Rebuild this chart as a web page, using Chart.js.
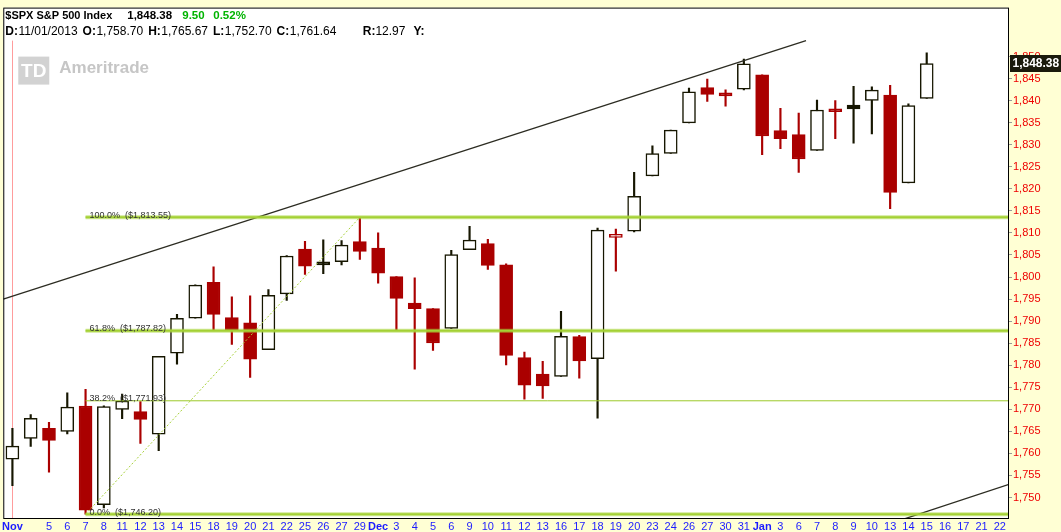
<!DOCTYPE html>
<html>
<head>
<meta charset="utf-8">
<script src="https://cdn.jsdelivr.net/npm/chart.js@4.4.1/dist/chart.umd.min.js"></script>
<style>
  html, body { margin: 0; padding: 0; background: #ffffd4; }
  canvas { display: block; }
</style>
</head>
<body>
<canvas id="spxChart" width="1061" height="532"></canvas>
<script>
// x axis: one slot per trading day, last four are empty future days
var dayLabels = ['Nov', '', '5', '6', '7', '8', '11', '12', '13', '14', '15', '18', '19', '20', '21', '22', '25', '26', '27', '29',
    'Dec', '3', '4', '5', '6', '9', '10', '11', '12', '13', '16', '17', '18', '19', '20', '23', '24', '26', '27', '30', '31',
    'Jan', '3', '6', '7', '8', '9', '10', '13', '14', '15', '16', '17', '21', '22'];
var monthLabels = ['Nov', 'Dec', 'Jan'];

var opens = [1758.70, 1763.40, 1765.67, 1765.00, 1770.74, 1748.37, 1769.96, 1769.51, 1764.37, 1782.75, 1790.66,
    1798.82, 1790.79, 1789.59, 1783.52, 1796.19, 1806.33, 1802.87, 1803.48, 1808.01,
    1806.55, 1800.10, 1794.08, 1792.82, 1788.36, 1806.21, 1807.60, 1802.76, 1781.71, 1777.98,
    1777.48, 1786.47, 1781.46, 1809.00, 1810.39, 1822.92, 1828.02, 1834.96, 1842.97, 1841.47, 1842.61,
    1845.86, 1833.21, 1832.31, 1828.71, 1837.90, 1839.00, 1840.06, 1841.26, 1821.36, 1840.52];
var highs = [1765.67, 1768.78, 1767.03, 1773.74, 1774.54, 1770.78, 1773.44, 1771.78, 1782.00, 1791.53, 1798.22,
    1802.33, 1795.51, 1795.73, 1797.16, 1804.84, 1808.10, 1808.42, 1808.27, 1813.55,
    1810.02, 1800.10, 1799.80, 1792.82, 1806.04, 1811.52, 1808.52, 1802.97, 1782.99, 1780.90,
    1792.22, 1786.77, 1811.08, 1810.88, 1823.75, 1829.75, 1833.32, 1842.84, 1844.89, 1842.47, 1849.44,
    1845.86, 1838.24, 1837.16, 1840.10, 1840.02, 1843.23, 1843.15, 1843.45, 1839.26, 1850.84];
var lows = [1752.70, 1761.56, 1755.76, 1764.40, 1746.20, 1747.63, 1767.85, 1762.29, 1760.64, 1780.22, 1790.66,
    1788.00, 1784.72, 1777.23, 1783.52, 1794.70, 1800.58, 1800.77, 1802.77, 1803.98,
    1798.60, 1787.85, 1779.09, 1783.38, 1788.36, 1806.21, 1801.75, 1780.09, 1772.28, 1772.45,
    1777.48, 1777.05, 1767.99, 1801.35, 1810.25, 1822.92, 1828.02, 1834.96, 1839.81, 1838.77, 1842.41,
    1827.74, 1829.13, 1823.73, 1828.71, 1831.40, 1830.38, 1832.43, 1815.52, 1821.36, 1840.52];
var closes = [1761.64, 1767.93, 1762.97, 1770.49, 1747.15, 1770.61, 1771.89, 1767.69, 1782.00, 1790.62, 1798.18,
    1791.53, 1787.87, 1781.37, 1795.85, 1804.76, 1802.48, 1802.75, 1807.23, 1805.81,
    1800.90, 1795.15, 1792.81, 1785.03, 1805.09, 1808.37, 1802.62, 1782.22, 1775.50, 1775.32,
    1786.54, 1781.00, 1810.65, 1809.60, 1818.32, 1827.99, 1833.32, 1842.02, 1841.40, 1841.07, 1848.36,
    1831.98, 1831.37, 1826.77, 1837.88, 1837.49, 1838.13, 1842.37, 1819.20, 1838.88, 1848.38];

var yTickValues = [1750, 1755, 1760, 1765, 1770, 1775, 1780, 1785, 1790, 1795, 1800,
    1805, 1810, 1815, 1820, 1825, 1830, 1835, 1840, 1845, 1850];

// fibonacci retracement from the Nov 7 low to the Nov 29 high
var fibPercents = ['100.0%', '61.8%', '38.2%', '0.0%'];
var fibPrices = [1813.55, 1787.82, 1771.93, 1746.20];
var fibHeavy = [true, true, false, true];
var fibStart = 4;
var fibSwing = [{x: 4, y: 1746.20}, {x: 19, y: 1813.55}];

// trend channel, x in day slots
var upperTrend = [{x: -0.5, y: 1795.0}, {x: 43.4, y: 1853.6}];
var lowerTrend = [{x: 47.5, y: 1743.4}, {x: 54.5, y: 1753.0}];

var cursorIndex = 0;
var cursorDate = '11/01/2013';

var BLACK = '#161600';
var RED = '#aa0000';

function fmt(v) {
    return v.toLocaleString('en-US', {minimumFractionDigits: 2, maximumFractionDigits: 2});
}

var candleColor = [], bodyFill = [], bodies = [], wicks = [];
for (var i = 0; i < closes.length; i++) {
    var col = (i > 0 && closes[i] < closes[i - 1]) ? RED : BLACK;
    candleColor.push(col);
    bodyFill.push(closes[i] < opens[i] ? col : '#ffffff');
    bodies.push([opens[i], closes[i]]);
    wicks.push([lows[i], highs[i]]);
}

var lastIdx = closes.length - 1;
var lastClose = closes[lastIdx];
var change = lastClose - closes[lastIdx - 1];
var changePct = change / closes[lastIdx - 1] * 100;

var fibDatasets = [];
for (var k = 0; k < fibPrices.length; k++) {
    var pts = [{x: fibStart, y: fibPrices[k]}, {x: dayLabels.length - 0.5, y: fibPrices[k]}];
    if (fibHeavy[k]) {
        fibDatasets.push({type: 'line', xAxisID: 'x2', data: pts, borderColor: 'rgba(170,215,60,0.55)',
            borderWidth: 4, pointRadius: 0, order: 0});
        fibDatasets.push({type: 'line', xAxisID: 'x2', data: pts, borderColor: '#9cc92a',
            borderWidth: 2, pointRadius: 0, order: 0});
    } else {
        fibDatasets.push({type: 'line', xAxisID: 'x2', data: pts, borderColor: '#9cc92a',
            borderWidth: 1, pointRadius: 0, order: 0});
    }
}

var decorPlugin = {
    id: 'decor',
    beforeDraw: function(chart) {
        var c = chart.ctx, a = chart.chartArea;
        c.save();
        c.fillStyle = '#ffffd4';
        c.fillRect(0, 0, chart.width, chart.height);
        c.fillStyle = '#ffffff';
        c.fillRect(a.left, a.top, a.right - a.left, a.bottom - a.top);
        c.restore();
    },
    beforeDatasetsDraw: function(chart) {
        var c = chart.ctx, a = chart.chartArea;
        c.save();
        // watermark
        c.fillStyle = '#d2d2d2';
        c.fillRect(a.left + 15, a.top + 49, 31, 28);
        c.fillStyle = '#ffffff';
        c.font = 'bold 19px "Liberation Sans"';
        c.textBaseline = 'middle';
        c.textAlign = 'center';
        c.fillText('TD', a.left + 30.5, a.top + 64);
        c.textAlign = 'left';
        c.fillStyle = '#c6c6c6';
        c.font = 'bold 17px "Liberation Sans"';
        c.fillText('Ameritrade', a.left + 56, a.top + 61);
        // cursor line
        var cx = Math.round(chart.scales.x.getPixelForValue(cursorIndex)) + 0.5;
        c.strokeStyle = '#ff9c9c';
        c.lineWidth = 1;
        c.beginPath();
        c.moveTo(cx, a.top + 33);
        c.lineTo(cx, a.bottom);
        c.stroke();
        c.restore();
    },
    afterDatasetsDraw: function(chart) {
        var c = chart.ctx;
        var xs = chart.scales.x2, ys = chart.scales.y;
        c.save();
        c.font = '9px "Liberation Sans"';
        c.fillStyle = '#333333';
        c.textBaseline = 'alphabetic';
        for (var k = 0; k < fibPrices.length; k++) {
            var px = xs.getPixelForValue(fibStart) + 4;
            var py = ys.getPixelForValue(fibPrices[k]);
            c.fillText(fibPercents[k] + '  ($' + fmt(fibPrices[k]) + ')', px, py + 0.5);
        }
        c.restore();
    },
    afterDraw: function(chart) {
        var c = chart.ctx, a = chart.chartArea;
        c.save();
        // frame
        c.strokeStyle = '#000000';
        c.lineWidth = 1;
        c.strokeRect(a.left + 0.5, a.top + 0.5, a.right - a.left - 1, a.bottom - a.top);

        // header
        c.textBaseline = 'middle';
        c.font = 'bold 11px "Liberation Sans"';
        c.fillStyle = '#000000';
        c.fillText('$SPX S&P 500 Index', a.left + 2, a.top + 8);
        c.font = 'bold 11.5px "Liberation Sans"';
        c.fillText(fmt(lastClose), a.left + 124, a.top + 8);
        c.fillStyle = '#00b400';
        c.fillText(change.toFixed(2), a.left + 179, a.top + 8);
        c.fillText(changePct.toFixed(2) + '%', a.left + 210, a.top + 8);

        var info = [['D:', cursorDate], ['O:', fmt(opens[cursorIndex])], ['H:', fmt(highs[cursorIndex])],
            ['L:', fmt(lows[cursorIndex])], ['C:', fmt(closes[cursorIndex])]];
        var x = a.left + 2, y = a.top + 24;
        c.fillStyle = '#000000';
        for (var i = 0; i < info.length; i++) {
            c.font = 'bold 12px "Liberation Sans"';
            c.fillText(info[i][0], x, y);
            x += c.measureText(info[i][0]).width + 0.5;
            c.font = '12px "Liberation Sans"';
            c.fillText(info[i][1], x, y);
            x += c.measureText(info[i][1]).width + 5;
        }
        x = a.left + 359.5;
        c.font = 'bold 12px "Liberation Sans"';
        c.fillText('R:', x, y);
        x += c.measureText('R:').width;
        c.font = '12px "Liberation Sans"';
        var range = (highs[cursorIndex] - lows[cursorIndex]).toFixed(2);
        c.fillText(range, x, y);
        x += c.measureText(range).width + 8;
        c.font = 'bold 12px "Liberation Sans"';
        c.fillText('Y:', x, y);

        // last price box on the axis
        var py = Math.round(chart.scales.y.getPixelForValue(lastClose));
        c.fillStyle = '#1a1a0c';
        c.fillRect(a.right + 1, py - 9, chart.width - a.right - 1, 17);
        c.fillStyle = '#ffffff';
        c.font = 'bold 12px "Liberation Sans"';
        c.fillText(fmt(lastClose), a.right + 3.5, py);
        c.restore();
    }
};

Chart.defaults.font.family = '"Liberation Sans", Arial, sans-serif';

var ctx = document.getElementById('spxChart').getContext('2d');
var spxChart = new Chart(ctx, {
    type: 'bar',
    data: {
        labels: dayLabels,
        datasets: fibDatasets.concat([
            {
                type: 'line', xAxisID: 'x2', data: fibSwing,
                borderColor: '#a8d23a', borderWidth: 1, borderDash: [2, 2],
                pointRadius: 0, order: 0
            },
            {
                type: 'line', xAxisID: 'x2', data: upperTrend,
                borderColor: '#2c2c22', borderWidth: 1.3, pointRadius: 0, order: 0
            },
            {
                type: 'line', xAxisID: 'x2', data: lowerTrend,
                borderColor: '#2c2c22', borderWidth: 1.3, pointRadius: 0, order: 0
            },
            {
                label: 'body',
                data: bodies,
                backgroundColor: bodyFill,
                borderColor: candleColor,
                borderWidth: 1.5,
                borderSkipped: false,
                barThickness: 13,
                minBarLength: 3,
                grouped: false,
                order: 1
            },
            {
                label: 'wick',
                data: wicks,
                backgroundColor: candleColor,
                borderWidth: 0,
                barThickness: 1.5,
                grouped: false,
                order: 2
            }
        ])
    },
    options: {
        responsive: false,
        animation: false,
        devicePixelRatio: 1,
        layout: { padding: { left: 3, top: 3, right: 0, bottom: 0 } },
        plugins: {
            legend: { display: false },
            tooltip: { enabled: false }
        },
        scales: {
            x: {
                afterFit: function(s) { s.height = 14; },
                grid: { display: false, drawTicks: false },
                border: { display: false },
                ticks: {
                    autoSkip: false,
                    maxRotation: 0,
                    minRotation: 0,
                    padding: 2,
                    color: '#1c1cff',
                    font: function(context) {
                        var lbl = context.tick ? context.tick.label : '';
                        return { size: 11, weight: monthLabels.indexOf(lbl) >= 0 ? 'bold' : 'normal' };
                    }
                }
            },
            x2: {
                type: 'linear',
                display: false,
                offset: false,
                grid: { offset: false },
                min: -0.5,
                max: dayLabels.length - 0.5
            },
            y: {
                position: 'right',
                min: 1745.35,
                max: 1861.1,
                afterFit: function(s) { s.width = 52; },
                afterBuildTicks: function(s) {
                    s.ticks = yTickValues.map(function(v) { return { value: v }; });
                },
                grid: { drawOnChartArea: false, drawTicks: true, tickLength: 3, color: '#999999' },
                border: { display: false },
                ticks: {
                    color: '#ee0000',
                    padding: 1,
                    font: { size: 11 },
                    callback: function(v) { return v.toLocaleString('en-US'); }
                }
            }
        }
    },
    plugins: [decorPlugin]
});
</script>
</body>
</html>
